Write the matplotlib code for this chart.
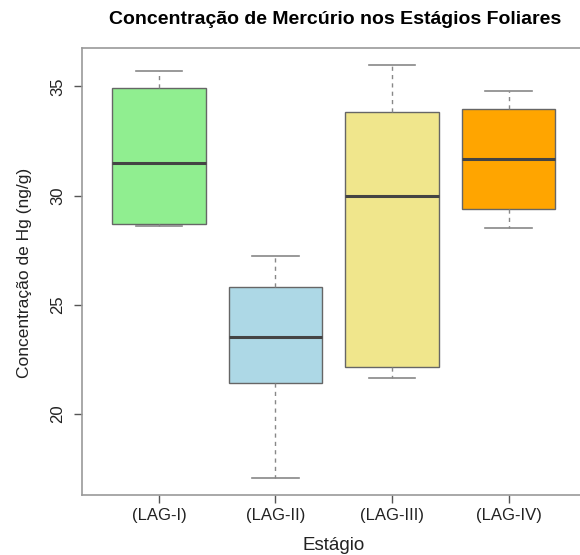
import matplotlib
matplotlib.use("Agg")
import matplotlib.pyplot as plt

plt.rcParams['font.family'] = ['Liberation Sans', 'DejaVu Sans']

estagios = ["(LAG-I)", "(LAG-II)", "(LAG-III)", "(LAG-IV)"]
minimo = [28.6, 17.05, 21.65, 28.5]
q1 = [28.7, 21.4, 22.15, 29.4]
mediana = [31.5, 23.55, 30.0, 31.7]
q3 = [34.95, 25.8, 33.85, 33.95]
maximo = [35.7, 27.25, 36.0, 34.8]
cores = ["#90EE90", "#ADD8E6", "#F0E68C", "#FFA500"]

stats = []
for i in range(len(estagios)):
    stats.append({"whislo": minimo[i], "q1": q1[i], "med": mediana[i],
                  "q3": q3[i], "whishi": maximo[i], "fliers": []})

fig = plt.figure(figsize=(5.8, 5.55), dpi=100)
# caixa do grafico passa da borda direita, como no original
ax = fig.add_axes([0.1414, 0.108, 0.868, 0.8055])

bp = ax.bxp(stats, positions=[1, 2, 3, 4], widths=0.8, patch_artist=True,
            showfliers=False,
            boxprops=dict(edgecolor="#666666", linewidth=1),
            medianprops=dict(color="#444444", linewidth=2.2),
            whiskerprops=dict(color="#888888", linestyle=(0, (3, 3)), linewidth=1),
            capprops=dict(color="#888888", linewidth=1.2),
            capwidths=0.4)
for patch, c in zip(bp["boxes"], cores):
    patch.set_facecolor(c)

ax.set_xlim(0.34, 4.66)
ax.set_ylim(16.29, 36.76)
ax.set_xticks([1, 2, 3, 4])
ax.set_xticklabels(estagios)
ax.set_yticks([20, 25, 30, 35])
ax.set_yticklabels(["20", "25", "30", "35"], rotation=90, va="center")
ax.tick_params(colors="#555555", labelcolor="#222222", labelsize=12, length=6, width=1)
ax.tick_params(axis="x", pad=3)
ax.tick_params(axis="y", pad=6)

for s in ax.spines.values():
    s.set_color("#999999")
    s.set_linewidth(1.2)

ax.set_xlabel("Estágio", fontsize=13.5, color="#222222")
ax.xaxis.set_label_coords(0.5, -0.112)
ax.xaxis.label.set_va("center")
ax.set_ylabel("Concentração de Hg (ng/g)", fontsize=12.5, color="#222222")
ax.yaxis.set_label_coords(-0.1145, 0.497)
ax.yaxis.label.set_va("center")

fig.text(0.578, 0.964, "Concentração de Mercúrio nos Estágios Foliares",
         ha="center", va="center", fontsize=14, fontweight="bold")

fig.savefig("out.png", dpi=100)
